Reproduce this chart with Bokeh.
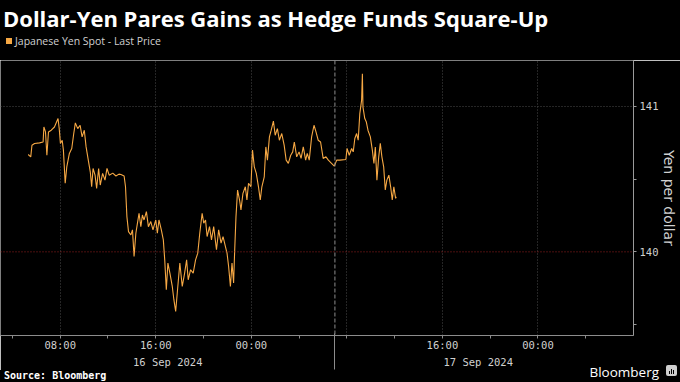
import pandas as pd
from bokeh.plotting import figure
from bokeh.layouts import column
from bokeh.models import (FixedTicker, DatetimeTickFormatter, DatetimeAxis, Span,
                          Range1d, ColumnDataSource, Div)
from bokeh.embed import file_html
from bokeh.resources import INLINE

# ---------------- data ----------------
times_16 = ["05:19", "05:32", "05:38", "05:51", "06:16", "06:34", "06:38", "06:46", "06:53", "07:01",
            "07:15", "07:31", "07:49", "07:55", "08:01", "08:10", "08:16", "08:25", "08:33", "08:46",
            "08:58", "09:08", "09:16", "09:28", "09:40", "09:50", "10:01", "10:10", "10:21", "10:31",
            "10:38", "10:45", "10:55", "11:03", "11:13", "11:21", "11:33", "11:45", "11:55", "12:06",
            "12:24", "12:40", "12:55", "13:05", "13:21", "13:28", "13:35", "13:43", "13:55", "14:03",
            "14:11", "14:20", "14:28", "14:36", "14:45", "14:53", "15:01", "15:13", "15:23", "15:35",
            "15:46", "16:00", "16:08", "16:16", "16:28", "16:38", "16:45", "16:53", "17:01", "17:11",
            "17:23", "17:31", "17:40", "17:48", "18:01", "18:13", "18:25", "18:35", "18:43", "18:55",
            "19:08", "19:20", "19:31", "19:41", "19:53", "20:01", "20:10", "20:18", "20:30", "20:40",
            "20:51", "21:05", "21:16", "21:28", "21:38", "21:50", "21:58", "22:06", "22:15", "22:23",
            "22:31", "22:36", "22:43", "22:51", "23:01", "23:08", "23:18", "23:30", "23:38", "23:46",
            "23:58"]
price_16 = [140.669, 140.653, 140.733, 140.745, 140.749, 140.755, 140.858, 140.824, 140.664, 140.824,
            140.836, 140.858, 140.916, 140.847, 140.745, 140.767, 140.699, 140.471, 140.584, 140.676,
            140.710, 140.813, 140.886, 140.847, 140.870, 140.790, 140.836, 140.721, 140.630, 140.550,
            140.447, 140.573, 140.527, 140.436, 140.573, 140.459, 140.539, 140.493, 140.573, 140.527,
            140.541, 140.521, 140.534, 140.532, 140.521, 140.447, 140.242, 140.139, 140.116, 140.151,
            139.968, 140.128, 140.197, 140.265, 140.173, 140.253, 140.219, 140.276, 140.173, 140.208,
            140.151, 140.219, 140.128, 140.219, 140.151, 140.082, 139.945, 139.740, 139.923, 139.854,
            139.762, 139.671, 139.591, 139.717, 139.923, 139.762, 139.854, 139.945, 139.808, 139.877,
            139.854, 139.945, 139.991, 140.128, 140.265, 140.197, 140.219, 140.105, 140.173, 140.082,
            140.173, 140.014, 140.151, 140.060, 140.105, 140.036, 139.991, 139.899, 139.762, 139.923,
            139.786, 139.991, 140.242, 140.425, 140.356, 140.288, 140.402, 140.447, 140.356, 140.471,
            140.447]
times_17 = ["00:06", "00:15", "00:25", "00:36", "00:45", "00:53", "01:05", "01:13", "01:21", "01:31",
            "01:40", "01:51", "02:00", "02:11", "02:21", "02:33", "02:45", "02:55", "03:06", "03:18",
            "03:28", "03:36", "03:48", "04:00", "04:10", "04:21", "04:33", "04:41", "04:51", "05:03",
            "05:15", "05:25", "05:36", "05:48", "06:01", "06:15", "06:27", "06:43", "06:57", "07:09",
            "07:25", "07:55", "08:01", "08:12", "08:24", "08:32", "08:40", "08:49", "08:57", "09:05",
            "09:14", "09:18", "09:21", "09:30", "09:38", "09:46", "09:58", "10:08", "10:16", "10:23",
            "10:31", "10:40", "10:48", "10:56", "11:05", "11:13", "11:21", "11:31", "11:40", "11:48",
            "11:56", "12:05", "12:08"]
price_17 = [140.699, 140.584, 140.539, 140.447, 140.356, 140.447, 140.516, 140.721, 140.630, 140.790,
            140.836, 140.899, 140.801, 140.847, 140.767, 140.813, 140.733, 140.630, 140.608, 140.664,
            140.687, 140.755, 140.653, 140.687, 140.642, 140.721, 140.630, 140.676, 140.630, 140.790,
            140.870, 140.824, 140.767, 140.755, 140.642, 140.653, 140.630, 140.608, 140.589, 140.630,
            140.630, 140.635, 140.710, 140.664, 140.710, 140.687, 140.779, 140.813, 140.767, 140.950,
            141.041, 141.224, 140.995, 140.916, 140.892, 140.836, 140.790, 140.699, 140.608, 140.721,
            140.493, 140.653, 140.745, 140.653, 140.584, 140.425, 140.493, 140.527, 140.447, 140.356,
            140.447, 140.368, 140.379]

x_start, x_end = "2024-09-16 03:00", "2024-09-18 08:00"
y_start, y_end = 139.425, 141.315
major_x = ["2024-09-16 08:00", "2024-09-16 16:00", "2024-09-17 00:00", "2024-09-17 16:00", "2024-09-18 00:00"]
grid_x = ["2024-09-16 08:00", "2024-09-16 16:00", "2024-09-17 00:00", "2024-09-17 08:00",
          "2024-09-17 16:00", "2024-09-18 00:00"]
minor_x = ["2024-09-16 04:00", "2024-09-16 12:00", "2024-09-16 20:00", "2024-09-17 04:00",
           "2024-09-17 08:00", "2024-09-17 12:00", "2024-09-17 20:00", "2024-09-18 04:00"]
day_label_x = ["2024-09-16 17:00", "2024-09-17 19:00"]
day_break = "2024-09-17 07:00"
y_major = [140, 141]
y_minor = [139.5, 140.5]
y_ref = 140

title_text = "Dollar-Yen Pares Gains as Hedge Funds Square-Up"
series_name = "Japanese Yen Spot - Last Price"
y_title = "Yen per dollar"
source_text = "Source: Bloomberg"
brand_text = "Bloomberg"

# ---------------- build ----------------
def ms(s):
    return pd.Timestamp(s).value / 1e6

t = [ms("2024-09-16 " + s) for s in times_16] + [ms("2024-09-17 " + s) for s in times_17]
src = ColumnDataSource(dict(t=t, v=price_16 + price_17))

ORANGE = "#f6a844"
GRID = "#4a4a4a"
TXT = "#d0d0d0"
AX = "#8c8c8c"
MONO = "DejaVu Sans Mono"
W = 680
H_HEAD, H_MAIN = 60, 310
H_FOOT = 382 - H_HEAD - H_MAIN

# ---------- header: title + legend ----------
head_html = (
    f"<div style='position:relative;width:{W}px;height:{H_HEAD}px;background:#000;overflow:hidden;'>"
    f"<div style=\"position:absolute;left:3px;top:5px;font-family:'Open Sans';font-weight:bold;"
    f"font-size:22px;line-height:26px;color:#fff;white-space:nowrap;\">{title_text}</div>"
    f"<div style='position:absolute;left:6px;top:38px;width:6px;height:6px;background:{ORANGE};'></div>"
    f"<div style=\"position:absolute;left:15px;top:34px;font-family:'Open Sans';font-size:10.5px;"
    f"line-height:14px;color:{TXT};white-space:nowrap;\">{series_name}</div>"
    f"</div>")
head = Div(text=head_html, width=W, height=H_HEAD, margin=0, styles={"background-color": "black"})

# ---------- main chart ----------
p = figure(width=W, height=H_MAIN, x_axis_type="datetime", y_axis_location="right",
           output_backend="svg", toolbar_location=None,
           x_range=Range1d(ms(x_start), ms(x_end)),
           y_range=Range1d(y_start, y_end),
           background_fill_color="black", border_fill_color="black", outline_line_color=None,
           min_border_left=0, min_border_right=45, min_border_top=0, min_border_bottom=34)

p.xgrid.ticker = FixedTicker(ticks=[ms(s) for s in grid_x])
p.xgrid.grid_line_color = GRID
p.xgrid.grid_line_dash = "1 2"
p.ygrid.ticker = FixedTicker(ticks=[141])
p.ygrid.grid_line_color = GRID
p.ygrid.grid_line_dash = "1 2"
p.add_layout(Span(location=y_ref, dimension="width", line_color="#9a2020", line_dash="1 2", line_width=1))
p.add_layout(Span(location=ms(day_break), dimension="height", line_color=AX, line_dash="4 2", line_width=1))

p.line("t", "v", source=src, line_color=ORANGE, line_width=1.1)

# x axis (times)
xa = p.xaxis[0]
xa.ticker = FixedTicker(ticks=[ms(s) for s in major_x], minor_ticks=[ms(s) for s in minor_x])
fmt_time = "%H:%M"
xa.formatter = DatetimeTickFormatter(hours=fmt_time, hourmin=fmt_time, days=fmt_time, minutes=fmt_time,
                                     minsec=fmt_time, seconds=fmt_time, months=fmt_time, years=fmt_time)
xa.axis_line_color = AX
xa.major_tick_line_color = AX
xa.minor_tick_line_color = AX
xa.major_tick_out = 3
xa.major_tick_in = 0
xa.minor_tick_out = 3
xa.minor_tick_in = 0
xa.major_label_standoff = 0
xa.axis_label_standoff = 0
xa.major_label_text_color = TXT
xa.major_label_text_font = MONO
xa.major_label_text_font_size = "10.5px"

# x axis (dates) with the day break drawn as its (only) minor tick
fmt_day = "%d %b %Y"
da = DatetimeAxis(ticker=FixedTicker(ticks=[ms(s) for s in day_label_x], minor_ticks=[ms(day_break)]),
                  formatter=DatetimeTickFormatter(hours=fmt_day, hourmin=fmt_day, days=fmt_day, minutes=fmt_day,
                                                  minsec=fmt_day, seconds=fmt_day, months=fmt_day, years=fmt_day))
da.axis_line_color = None
da.major_tick_line_color = None
da.major_tick_out = 0
da.major_tick_in = 0
da.minor_tick_line_color = AX
da.minor_tick_in = 20
da.minor_tick_out = 16
da.major_label_standoff = -14
da.axis_label_standoff = 0
da.major_label_text_color = TXT
da.major_label_text_font = MONO
da.major_label_text_font_size = "10.5px"
p.add_layout(da, "below")

# y axis
ya = p.yaxis[0]
ya.ticker = FixedTicker(ticks=y_major, minor_ticks=y_minor)
ya.axis_line_color = "#9a9a9a"
ya.major_tick_line_color = "#9a9a9a"
ya.minor_tick_line_color = "#9a9a9a"
ya.major_tick_out = 3
ya.major_tick_in = 0
ya.minor_tick_out = 3
ya.minor_tick_in = 0
ya.major_label_standoff = 3
ya.major_label_text_color = TXT
ya.major_label_text_font = MONO
ya.major_label_text_font_size = "10.5px"
ya.axis_label = y_title
ya.axis_label_text_color = TXT
ya.axis_label_text_font = "DejaVu Sans"
ya.axis_label_text_font_size = "14px"
ya.axis_label_text_font_style = "normal"
ya.axis_label_standoff = 0

# ---------- footer: source + brand ----------
foot_html = (
    f"<div style='position:relative;width:{W}px;height:{H_FOOT}px;background:#000;'>"
    f"<div style='position:absolute;left:4px;top:0px;font-family:\"{MONO}\";font-weight:bold;"
    f"font-size:10px;line-height:12px;color:#fff;white-space:nowrap;'>{source_text}</div>"
    f"<div style=\"position:absolute;right:21px;top:-6px;font-family:'Open Sans';font-size:13.5px;"
    f"line-height:16px;color:#fff;white-space:nowrap;\">{brand_text}</div>"
    f"<div style='position:absolute;left:666px;top:-5px;width:11px;height:11px;background:#cfcfcf;"
    f"border-radius:2px;'>"
    f"<div style='position:absolute;left:3px;top:6px;width:1px;height:3px;background:#000;'></div>"
    f"<div style='position:absolute;left:5px;top:4px;width:1px;height:5px;background:#000;'></div>"
    f"<div style='position:absolute;left:7px;top:5px;width:1px;height:4px;background:#000;'></div>"
    f"</div></div>")
foot = Div(text=foot_html, width=W, height=H_FOOT, margin=0, styles={"background-color": "black"})

layout = column(head, p, foot, spacing=0)
open("out.html", "w").write(file_html(layout, INLINE))
